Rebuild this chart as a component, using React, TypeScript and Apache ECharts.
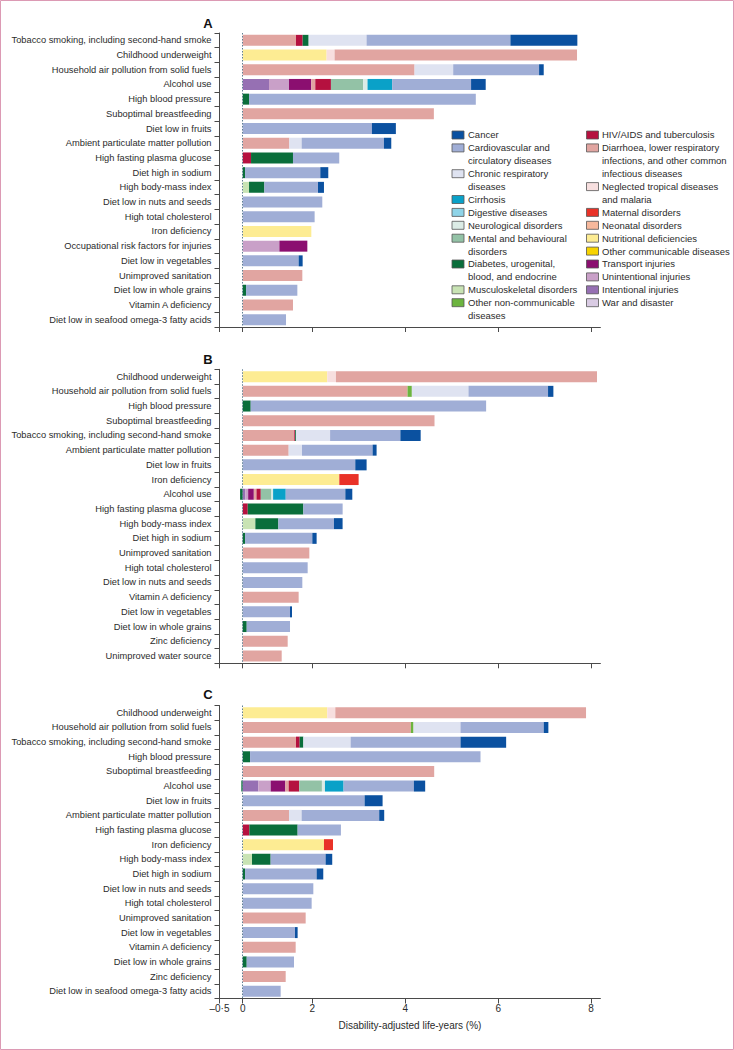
import React, { useEffect, useRef } from "react";
import * as echarts from "echarts";

// ---------- DATA ----------
const causeKeys = [
  "war", "intent", "unint", "transport", "nutri", "othcomm", "neonatal", "maternal", "ntd", "diarr",
  "hiv", "othncd", "musc", "diab", "mental", "neuro", "digest", "cirr", "chronic", "cardio", "cancer",
];
const causeNames: Record<string, string> = {
  war: "War and disaster",
  intent: "Intentional injuries",
  unint: "Unintentional injuries",
  transport: "Transport injuries",
  nutri: "Nutritional deficiencies",
  othcomm: "Other communicable diseases",
  neonatal: "Neonatal disorders",
  maternal: "Maternal disorders",
  ntd: "Neglected tropical diseases and malaria",
  diarr: "Diarrhoea, lower respiratory infections, and other common infectious diseases",
  hiv: "HIV/AIDS and tuberculosis",
  othncd: "Other non-communicable diseases",
  musc: "Musculoskeletal disorders",
  diab: "Diabetes, urogenital, blood, and endocrine",
  mental: "Mental and behavioural disorders",
  neuro: "Neurological disorders",
  digest: "Digestive diseases",
  cirr: "Cirrhosis",
  chronic: "Chronic respiratory diseases",
  cardio: "Cardiovascular and circulatory diseases",
  cancer: "Cancer",
};

const catsA = [
  "Tobacco smoking, including second-hand smoke", "Childhood underweight", "Household air pollution from solid fuels",
  "Alcohol use", "High blood pressure", "Suboptimal breastfeeding", "Diet low in fruits",
  "Ambient particulate matter pollution", "High fasting plasma glucose", "Diet high in sodium",
  "High body-mass index", "Diet low in nuts and seeds", "High total cholesterol", "Iron deficiency",
  "Occupational risk factors for injuries", "Diet low in vegetables", "Unimproved sanitation",
  "Diet low in whole grains", "Vitamin A deficiency", "Diet low in seafood omega-3 fatty acids",
];
const catsB = [
  "Childhood underweight", "Household air pollution from solid fuels", "High blood pressure",
  "Suboptimal breastfeeding", "Tobacco smoking, including second-hand smoke", "Ambient particulate matter pollution",
  "Diet low in fruits", "Iron deficiency", "Alcohol use", "High fasting plasma glucose", "High body-mass index",
  "Diet high in sodium", "Unimproved sanitation", "High total cholesterol", "Diet low in nuts and seeds",
  "Vitamin A deficiency", "Diet low in vegetables", "Diet low in whole grains", "Zinc deficiency",
  "Unimproved water source",
];
const catsC = [
  "Childhood underweight", "Household air pollution from solid fuels", "Tobacco smoking, including second-hand smoke",
  "High blood pressure", "Suboptimal breastfeeding", "Alcohol use", "Diet low in fruits",
  "Ambient particulate matter pollution", "High fasting plasma glucose", "Iron deficiency", "High body-mass index",
  "Diet high in sodium", "Diet low in nuts and seeds", "High total cholesterol", "Unimproved sanitation",
  "Diet low in vegetables", "Vitamin A deficiency", "Diet low in whole grains", "Zinc deficiency",
  "Diet low in seafood omega-3 fatty acids",
];

// segments per risk factor: [cause, % of DALYs]
const segA: [string, number][][] = [
  [["diarr", 1.147], ["hiv", 0.143], ["diab", 0.129], ["chronic", 1.247], ["cardio", 3.097], ["cancer", 1.441]],
  [["nutri", 1.806], ["ntd", 0.172], ["diarr", 5.219]],
  [["diarr", 3.699], ["chronic", 0.832], ["cardio", 1.849], ["cancer", 0.1]],
  [["intent", 0.566], ["unint", 0.43], ["transport", 0.48], ["diarr", 0.086], ["hiv", 0.337], ["mental", 0.695], ["neuro", 0.093], ["cirr", 0.53], ["cardio", 1.699], ["cancer", 0.315]],
  [["diab", 0.136], ["cardio", 4.882]],
  [["diarr", 4.115]],
  [["cardio", 2.781], ["cancer", 0.516]],
  [["diarr", 1.004], ["chronic", 0.265], ["cardio", 1.771], ["cancer", 0.158]],
  [["hiv", 0.179], ["diab", 0.903], ["cardio", 0.996]],
  [["diab", 0.05], ["cardio", 1.62], ["cancer", 0.172]],
  [["musc", 0.136], ["diab", 0.33], ["cardio", 1.154], ["cancer", 0.129]],
  [["cardio", 1.713]],
  [["cardio", 1.548]],
  [["nutri", 1.477]],
  [["unint", 0.789], ["transport", 0.602]],
  [["cardio", 1.204], ["cancer", 0.086]],
  [["diarr", 1.283]],
  [["diab", 0.072], ["cardio", 1.104]],
  [["diarr", 1.082]],
  [["cardio", 0.932]],
];
const segB: [string, number][][] = [
  [["nutri", 1.821], ["ntd", 0.186], ["diarr", 5.62]],
  [["diarr", 3.548], ["othncd", 0.093], ["chronic", 1.219], ["cardio", 1.713], ["cancer", 0.115]],
  [["diab", 0.172], ["cardio", 5.068]],
  [["diarr", 4.129]],
  [["diarr", 1.11], ["hiv", 0.02], ["diab", 0.02], ["chronic", 0.731], ["cardio", 1.513], ["cancer", 0.437]],
  [["diarr", 0.989], ["chronic", 0.287], ["cardio", 1.52], ["cancer", 0.086]],
  [["cardio", 2.423], ["cancer", 0.244]],
  [["nutri", 2.079], ["maternal", 0.416]],
  [["diab", -0.057], ["intent", 0.057], ["unint", 0.06], ["transport", 0.122], ["diarr", 0.057], ["hiv", 0.093], ["mental", 0.229], ["neuro", 0.036], ["cirr", 0.272], ["cardio", 1.283], ["cancer", 0.15]],
  [["hiv", 0.108], ["diab", 1.197], ["cardio", 0.846]],
  [["musc", 0.272], ["diab", 0.495], ["cardio", 1.197], ["cancer", 0.186]],
  [["diab", 0.05], ["cardio", 1.448], ["cancer", 0.093]],
  [["diarr", 1.434]],
  [["cardio", 1.398]],
  [["cardio", 1.283]],
  [["diarr", 1.204]],
  [["cardio", 1.018], ["cancer", 0.043]],
  [["diab", 0.086], ["cardio", 0.932]],
  [["diarr", 0.968]],
  [["diarr", 0.839]],
];
const segC: [string, number][][] = [
  [["nutri", 1.821], ["ntd", 0.172], ["diarr", 5.398]],
  [["diarr", 3.62], ["othncd", 0.057], ["chronic", 1.011], ["cardio", 1.792], ["cancer", 0.1]],
  [["diarr", 1.147], ["hiv", 0.079], ["diab", 0.079], ["chronic", 1.018], ["cardio", 2.366], ["cancer", 0.982]],
  [["diab", 0.158], ["cardio", 4.961]],
  [["diarr", 4.122]],
  [["diab", -0.03], ["intent", 0.337], ["unint", 0.265], ["transport", 0.315], ["diarr", 0.072], ["hiv", 0.229], ["mental", 0.487], ["neuro", 0.065], ["cirr", 0.401], ["cardio", 1.513], ["cancer", 0.244]],
  [["cardio", 2.624], ["cancer", 0.387]],
  [["diarr", 0.996], ["chronic", 0.272], ["cardio", 1.67], ["cancer", 0.108]],
  [["hiv", 0.143], ["diab", 1.039], ["cardio", 0.932]],
  [["nutri", 1.749], ["maternal", 0.194]],
  [["musc", 0.2], ["diab", 0.401], ["cardio", 1.183], ["cancer", 0.143]],
  [["diab", 0.05], ["cardio", 1.541], ["cancer", 0.143]],
  [["cardio", 1.52]],
  [["cardio", 1.484]],
  [["diarr", 1.355]],
  [["cardio", 1.125], ["cancer", 0.057]],
  [["diarr", 1.14]],
  [["diab", 0.086], ["cardio", 1.018]],
  [["diarr", 0.925]],
  [["cardio", 0.817]],
];

// tick positions on the value scale as drawn in the source figure, and their printed labels
const tickValues = [-0.5, 0, 1.5, 3.5, 5.5, 7.5];
const tickLabels = ["–0·5", "0", "2", "4", "6", "8"];
const panelTitles = ["A", "B", "C"];
const xAxisTitle = "Disability-adjusted life-years (%)";

const legendCol1 = ["cancer", "cardio", "chronic", "cirr", "digest", "neuro", "mental", "diab", "musc", "othncd"];
const legendCol2 = ["hiv", "diarr", "ntd", "maternal", "neonatal", "nutri", "othcomm", "transport", "unint", "intent", "war"];
const legendText: Record<string, string> = {
  cancer: "Cancer",
  cardio: "Cardiovascular and\ncirculatory diseases",
  chronic: "Chronic respiratory\ndiseases",
  cirr: "Cirrhosis",
  digest: "Digestive diseases",
  neuro: "Neurological disorders",
  mental: "Mental and behavioural\ndisorders",
  diab: "Diabetes, urogenital,\nblood, and endocrine",
  musc: "Musculoskeletal disorders",
  othncd: "Other non-communicable\ndiseases",
  hiv: "HIV/AIDS and tuberculosis",
  diarr: "Diarrhoea, lower respiratory\ninfections, and other common\ninfectious diseases",
  ntd: "Neglected tropical diseases\nand malaria",
  maternal: "Maternal disorders",
  neonatal: "Neonatal disorders",
  nutri: "Nutritional deficiencies",
  othcomm: "Other communicable diseases",
  transport: "Transport injuries",
  unint: "Unintentional injuries",
  intent: "Intentional injuries",
  war: "War and disaster",
};

// ---------- STYLE ----------
const causeColors: Record<string, string> = {
  war: "#d9cbe3", intent: "#9670b3", unint: "#c9a0c8", transport: "#8b0f70", nutri: "#fdec93",
  othcomm: "#f7d300", neonatal: "#f6b89c", maternal: "#e93228", ntd: "#f7dfdf", diarr: "#e1a5a1",
  hiv: "#b5113f", othncd: "#6cb43f", musc: "#c8e3b4", diab: "#0a6e3b", mental: "#93c2a6",
  neuro: "#dcece6", digest: "#8fd4e8", cirr: "#0aa1c8", chronic: "#dfe3f1", cardio: "#a0aed6",
  cancer: "#0b51a0",
};
const FONT = "'Liberation Sans', Arial, sans-serif";
const LABEL_SIZE = 9.3;
const TICK_SIZE = 10;
const LEGEND_SIZE = 9.5;
const TEXT = "#2b2b2b";
const AXIS = "#4a4a4a";
const GRID_LEFT = 219.5;
const UNIT = 46.45;
const XMIN = -0.5;
const XMAX = 7.7;
const gridTops = [33, 369.3, 705.5];
const gridHeights = [294, 294, 293];

export default function App() {
  const ref = useRef<HTMLDivElement>(null);
  useEffect(() => {
    if (!ref.current) return;
    const chart = echarts.init(ref.current, null, { renderer: "svg" });
    const panels = [
      { cats: catsA, segs: segA },
      { cats: catsB, segs: segB },
      { cats: catsC, segs: segC },
    ];
    const grids = panels.map((_, i) => ({
      left: GRID_LEFT,
      width: (XMAX - XMIN) * UNIT,
      top: gridTops[i],
      height: gridHeights[i],
      containLabel: false,
      outerBoundsMode: "none",
    }));
    const xAxes = panels.map((_, i) => ({
      type: "value",
      gridIndex: i,
      min: XMIN,
      max: XMAX,
      splitLine: { show: false },
      axisLine: { show: true, onZero: false, lineStyle: { color: AXIS, width: 1 } },
      axisTick: { show: true, length: 5, customValues: tickValues, lineStyle: { color: AXIS } },
      axisLabel: {
        show: i === 2,
        customValues: tickValues,
        margin: 5,
        fontFamily: FONT,
        fontSize: TICK_SIZE,
        color: TEXT,
        formatter: (v: number) => {
          const k = tickValues.findIndex((t) => Math.abs(t - v) < 1e-6);
          return k >= 0 ? tickLabels[k] : "";
        },
      },
      name: i === 2 ? xAxisTitle : "",
      nameLocation: "middle",
      nameGap: 22,
      nameTextStyle: { fontFamily: FONT, fontSize: TICK_SIZE, color: TEXT },
    }));
    const yAxes = panels.map((p, i) => ({
      type: "category",
      gridIndex: i,
      inverse: true,
      data: p.cats,
      axisLine: { show: true, onZero: false, lineStyle: { color: AXIS, width: 1 } },
      axisTick: { show: true, length: 5, lineStyle: { color: AXIS } },
      axisLabel: { fontFamily: FONT, fontSize: LABEL_SIZE, color: TEXT, margin: 8, interval: 0 },
      splitLine: { show: false },
    }));
    const series: any[] = [];
    panels.forEach((p, i) => {
      causeKeys.forEach((c, ci) => {
        const data = p.segs.map((row) => {
          const s = row.find((r) => r[0] === c);
          return s ? s[1] : 0;
        });
        const s: any = {
          type: "bar",
          name: causeNames[c],
          xAxisIndex: i,
          yAxisIndex: i,
          stack: "p" + i,
          barWidth: 11,
          data,
          itemStyle: { color: causeColors[c] },
          emphasis: { disabled: true },
        };
        if (ci === 0) {
          s.markLine = {
            silent: true,
            symbol: ["none", "none"],
            label: { show: false },
            lineStyle: { type: [1.5, 1.5], color: "#5f7f93", width: 1 },
            data: [{ xAxis: 0 }],
          };
        }
        series.push(s);
      });
    });

    const graphic: any[] = [
      {
        type: "rect",
        shape: { x: 0.5, y: 0.5, width: 733, height: 1049 },
        style: { fill: "none", stroke: "#dc9ab4", lineWidth: 1 },
        silent: true,
      },
    ];
    const titleY = [23, 359, 694];
    panelTitles.forEach((t, i) => {
      graphic.push({
        type: "text",
        x: 208,
        y: titleY[i],
        style: {
          text: t,
          font: `bold 13px ${FONT}`,
          fill: "#111",
          align: "center",
          verticalAlign: "middle",
        },
      });
    });
    const LH = 12.9;
    const addLegendCol = (keys: string[], boxX: number, textX: number) => {
      let line = 0;
      keys.forEach((k) => {
        const cy = 135 + line * LH;
        graphic.push({
          type: "rect",
          shape: { x: boxX, y: cy - 4, width: 12, height: 8 },
          style: { fill: causeColors[k], stroke: "#555", lineWidth: 0.8 },
        });
        graphic.push({
          type: "text",
          x: textX,
          y: cy - LH / 2,
          style: {
            text: legendText[k],
            font: `${LEGEND_SIZE}px ${FONT}`,
            fill: TEXT,
            lineHeight: LH,
            align: "left",
            verticalAlign: "top",
          },
        });
        line += legendText[k].split("\n").length;
      });
    };
    addLegendCol(legendCol1, 452, 468);
    addLegendCol(legendCol2, 586.5, 602);

    chart.setOption({
      animation: false,
      grid: grids,
      xAxis: xAxes,
      yAxis: yAxes,
      series,
      graphic,
    });
    return () => chart.dispose();
  }, []);
  return (
    <div
      ref={ref}
      style={{ position: "absolute", left: 0, top: 0, width: 734, height: 1050, background: "#fff" }}
    />
  );
}
